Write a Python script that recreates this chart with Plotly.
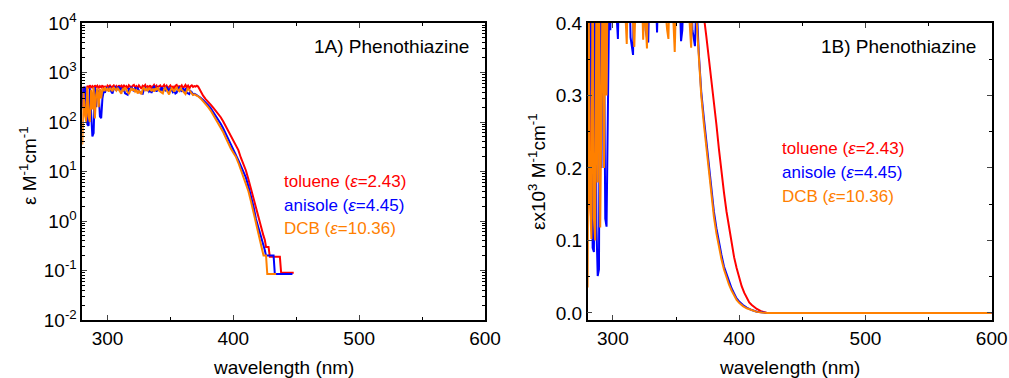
import plotly.graph_objects as go

# ---------------- data ----------------
# shared noisy plateau region, 280..368 nm (M^-1 cm^-1)
wl_noise = list(range(280, 369))
toluene_noise = [200, 520, 160, 120, 540, 480, 550, 500, 530, 470,
                 550, 510, 540, 480, 530, 500, 550, 490, 520, 470,
                 540, 500, 560, 480, 520, 550, 490, 530, 470, 550,
                 510, 540, 480, 560, 500, 530, 470, 550, 520, 490,
                 540, 560, 500, 530, 480, 550, 510, 470, 540, 520,
                 560, 490, 530, 500, 550, 480, 520, 560, 500, 540,
                 470, 530, 550, 490, 520, 560, 500, 540, 480, 530,
                 550, 500, 520, 470, 540, 560, 490, 530, 510, 550,
                 480, 520, 560, 500, 540, 470, 530, 550, 510]
anisole_noise = [500, 180, 520, 300, 90, 84, 480, 120, 51, 60,
                 510, 200, 450, 380, 130, 119, 300, 420, 390, 500,
                 460, 430, 520, 410, 378, 470, 500, 430, 480, 520,
                 440, 490, 420, 470, 380, 365, 356, 480, 440, 510,
                 470, 420, 500, 450, 480, 430, 390, 380, 373, 460,
                 500, 430, 470, 410, 440, 387, 480, 520, 450, 410,
                 490, 460, 430, 500, 420, 470, 440, 510, 460, 420,
                 490, 450, 400, 430, 375, 390, 470, 500, 440, 410,
                 480, 430, 460, 390, 380, 368, 420, 400, 360]
dcb_noise = [35, 400, 150, 102, 500, 130, 100, 450, 180, 500,
             118, 350, 480, 200, 460, 300, 480, 420, 500, 440,
             470, 410, 490, 450, 420, 500, 460, 430, 490, 450,
             410, 371, 470, 440, 500, 430, 400, 367, 450, 490,
             430, 470, 410, 440, 377, 420, 400, 365, 460, 500,
             440, 470, 420, 490, 450, 430, 470, 410, 480, 440,
             500, 430, 410, 390, 378, 460, 490, 440, 400, 360,
             430, 480, 450, 410, 470, 500, 440, 420, 480, 450,
             410, 390, 366, 430, 470, 440, 410, 390, 350]

# panel 1A (log scale) band edge, M^-1 cm^-1
wlA_toluene = [369, 370, 371, 372, 373, 374, 376, 378, 380, 382, 384, 386, 388, 390,
               392, 394, 396, 398, 400, 402, 404, 406, 408, 410, 412, 414, 416, 418,
               420, 422, 424, 425, 426, 428, 429, 437, 438, 448]
A_toluene = [530, 520, 540, 520, 470, 420, 340, 290, 260, 225, 195, 170, 145, 125,
             102, 82, 65, 52, 42, 34, 27, 19, 14, 10.5, 7, 4.5, 2.8, 1.7,
             1.1, 0.75, 0.5, 0.42, 0.3, 0.3, 0.19, 0.19, 0.09, 0.09]
wlA_anisole = [369, 370, 372, 374, 376, 378, 380, 382, 384, 386, 388, 390, 392, 394,
               396, 398, 400, 402, 404, 406, 408, 410, 412, 414, 416, 418, 420, 422,
               424, 425, 426, 432, 433, 445, 447]
A_anisole = [370, 360, 340, 310, 280, 250, 220, 190, 160, 135, 112, 92, 74, 58,
             45, 35, 28, 23, 17, 13, 10, 7.5, 5, 3.2, 2, 1.1, 0.75, 0.5,
             0.32, 0.26, 0.2, 0.2, 0.085, 0.085, 0.085]
wlA_dcb = [369, 370, 372, 374, 376, 378, 380, 382, 384, 386, 388, 390, 392, 394,
           396, 398, 400, 402, 404, 406, 408, 410, 412, 414, 416, 418, 420, 422,
           423, 424, 426, 427, 434]
A_dcb = [360, 350, 330, 300, 265, 235, 200, 170, 140, 117, 96, 78, 62, 48,
         37, 29, 24, 20, 15, 11, 8, 6, 4, 2.5, 1.5, 0.9, 0.6, 0.35,
         0.26, 0.2, 0.2, 0.085, 0.085]

# panel 1B (linear, x10^3 M^-1 cm^-1) band edge
wlB_toluene = [369, 370, 371, 372, 374, 376, 378, 380, 382, 384, 386, 388, 390, 392,
               394, 396, 398, 400, 402, 404, 406, 408, 410, 414, 418, 422, 600]
B_toluene = [0.53, 0.52, 0.47, 0.41, 0.382, 0.352, 0.325, 0.295, 0.26, 0.226, 0.193,
             0.166, 0.14, 0.118, 0.097, 0.077, 0.062, 0.048, 0.037, 0.028, 0.02,
             0.0145, 0.011, 0.0055, 0.002, 0.0, 0.0]
wlB_anisole = [369, 370, 372, 374, 376, 378, 380, 382, 384, 386, 388, 390, 392, 394,
               396, 398, 400, 403, 406, 410, 414, 418, 422, 600]
B_anisole = [0.325, 0.305, 0.27, 0.236, 0.202, 0.167, 0.14, 0.117, 0.097, 0.08,
             0.064, 0.054, 0.043, 0.034, 0.027, 0.02, 0.016, 0.011, 0.0075, 0.004,
             0.0018, 0.0006, 0.0, 0.0]
wlB_dcb = [369, 370, 372, 374, 376, 378, 380, 382, 384, 386, 388, 390, 392, 394,
           396, 398, 400, 403, 406, 410, 414, 418, 422, 600]
B_dcb = [0.32, 0.30, 0.262, 0.228, 0.194, 0.16, 0.133, 0.11, 0.09, 0.074, 0.06,
         0.049, 0.039, 0.031, 0.024, 0.018, 0.014, 0.0095, 0.0065, 0.0035, 0.0015,
         0.0005, 0.0, 0.0]

names = ["toluene", "anisole", "DCB"]
eps_values = ["2.43", "4.45", "10.36"]
colors = ["#FF0000", "#0000FF", "#FF8000"]

noise = [toluene_noise, anisole_noise, dcb_noise]
panelA = [(wlA_toluene, A_toluene), (wlA_anisole, A_anisole), (wlA_dcb, A_dcb)]
panelB = [(wlB_toluene, B_toluene), (wlB_anisole, B_anisole), (wlB_dcb, B_dcb)]

# ---------------- figure ----------------
W, H = 1009, 378
fig = go.Figure()
for i in range(3):
    xa = wl_noise + panelA[i][0]
    ya = noise[i] + panelA[i][1]
    fig.add_trace(go.Scatter(x=xa, y=ya, mode="lines", line=dict(color=colors[i], width=2),
                             xaxis="x", yaxis="y", showlegend=False))
for i in range(3):
    xb = wl_noise + panelB[i][0]
    yb = [v / 1000 for v in noise[i]] + panelB[i][1]
    fig.add_trace(go.Scatter(x=xb, y=yb, mode="lines", line=dict(color=colors[i], width=2),
                             xaxis="x2", yaxis="y2", showlegend=False))

FONT = "Liberation Sans, Arial, sans-serif"
tickfont = dict(family=FONT, size=19, color="black")

def px_x(p):
    return p / W

def px_y(p):
    return 1 - p / H

xdomA = [px_x(82.3), px_x(485)]
xdomB = [px_x(587.6), px_x(991.7)]
ydom = [px_y(320), px_y(23)]

common_x = dict(range=[280, 600], tick0=0, dtick=100, ticks="inside", ticklen=5, tickwidth=1,
                showline=True, linecolor="black", linewidth=1.5, mirror="ticks",
                showgrid=False, zeroline=False, tickfont=tickfont,
                minor=dict(tick0=0, dtick=50, ticks="inside", ticklen=3, tickcolor="black"))

log_minor = [m * 10 ** e for e in range(-2, 4) for m in range(2, 10)]

fig.update_layout(
    width=W, height=H, margin=dict(l=0, r=0, t=0, b=0, autoexpand=False),
    paper_bgcolor="white", plot_bgcolor="white",
    xaxis=dict(domain=xdomA, anchor="y", **common_x),
    xaxis2=dict(domain=xdomB, anchor="y2", **common_x),
    yaxis=dict(domain=ydom, anchor="x", type="log", range=[-2, 4],
               tickvals=[1e-2, 1e-1, 1e0, 1e1, 1e2, 1e3, 1e4],
               ticktext=["10<sup>-2</sup>", "10<sup>-1</sup>", "10<sup>0</sup>", "10<sup>1</sup>",
                         "10<sup>2</sup>", "10<sup>3</sup>", "10<sup>4</sup>"],
               ticks="inside", ticklen=5, showline=True, linecolor="black", linewidth=1.5,
               mirror="ticks", showgrid=False, zeroline=False, tickfont=tickfont,
               minor=dict(tickvals=log_minor, ticks="inside", ticklen=3, tickcolor="black")),
    yaxis2=dict(domain=ydom, anchor="x2", range=[-0.0097, 0.4], tick0=0, dtick=0.1,
                tickformat=".1f", ticks="inside", ticklen=5, showline=True, linecolor="black",
                linewidth=1.5, mirror="ticks", showgrid=False, zeroline=False, tickfont=tickfont,
                minor=dict(tick0=0, dtick=0.05, ticks="inside", ticklen=3, tickcolor="black")),
)

ann = []
# axis titles
for xc in [(82.3 + 485) / 2, (587.6 + 991.7) / 2]:
    ann.append(dict(text="wavelength (nm)", x=px_x(xc), y=px_y(367), xref="paper", yref="paper",
                    xanchor="center", yanchor="middle", showarrow=False,
                    font=dict(family=FONT, size=19, color="black")))
ann.append(dict(text="ε M<sup>-1</sup>cm<sup>-1</sup>", x=px_x(28), y=px_y(166), xref="paper",
                yref="paper", textangle=-90, xanchor="center", yanchor="middle", showarrow=False,
                font=dict(family=FONT, size=19, color="black")))
ann.append(dict(text="εx10<sup>3</sup> M<sup>-1</sup>cm<sup>-1</sup>", x=px_x(537), y=px_y(172),
                xref="paper", yref="paper", textangle=-90, xanchor="center", yanchor="middle",
                showarrow=False, font=dict(family=FONT, size=19, color="black")))
# panel labels
ann.append(dict(text="1A) Phenothiazine", x=px_x(471), y=px_y(47), xref="paper", yref="paper",
                xanchor="right", yanchor="middle", showarrow=False,
                font=dict(family=FONT, size=19, color="black")))
ann.append(dict(text="1B) Phenothiazine", x=px_x(978), y=px_y(47), xref="paper", yref="paper",
                xanchor="right", yanchor="middle", showarrow=False,
                font=dict(family=FONT, size=19, color="black")))
# legend texts
legA = [(282, 181), (282, 205), (282, 228)]
legB = [(780, 148), (780, 172), (780, 196)]
for i in range(3):
    label = f"{names[i]} (<i>ε</i>={eps_values[i]})"
    for (lx, ly) in (legA[i], legB[i]):
        ann.append(dict(text=label, x=px_x(lx), y=px_y(ly), xref="paper", yref="paper",
                        xanchor="left", yanchor="middle", showarrow=False,
                        font=dict(family=FONT, size=17, color=colors[i])))
fig.update_layout(annotations=ann)

fig.write_html("out.html")
